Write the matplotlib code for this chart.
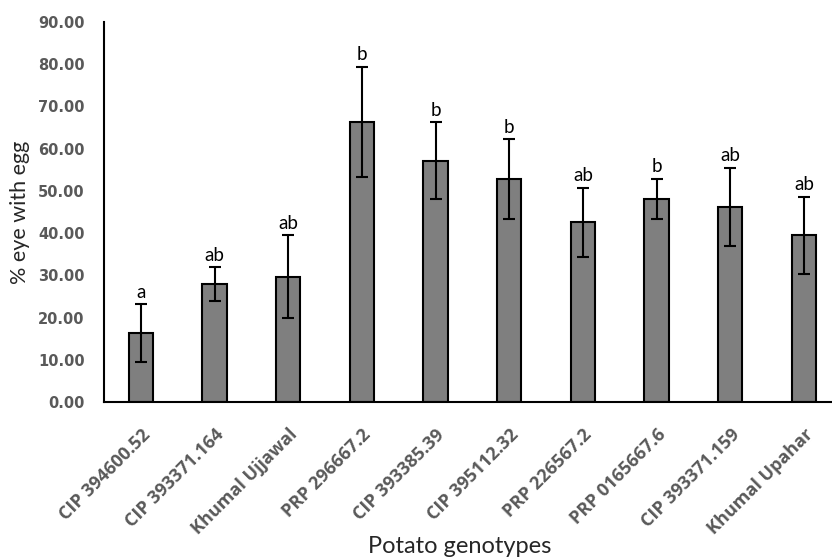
import numpy as np
import matplotlib
matplotlib.use("Agg")
import matplotlib.pyplot as plt

# Mean % of eyes with eggs per genotype, with standard error and letter groups
genotypes = ["CIP 394600.52", "CIP 393371.164", "Khumal Ujjawal", "PRP 296667.2",
             "CIP 393385.39", "CIP 395112.32", "PRP 226567.2", "PRP 0165667.6",
             "CIP 393371.159", "Khumal Upahar"]
eye_with_egg = [16.3, 27.9, 29.7, 66.3, 57.1, 52.8, 42.6, 48.1, 46.2, 39.5]
std_err = [6.8, 4.0, 9.8, 13.1, 9.1, 9.4, 8.2, 4.8, 9.3, 9.1]
groups = ["a", "ab", "ab", "b", "b", "b", "ab", "b", "ab", "ab"]
y_ticks = [0, 10, 20, 30, 40, 50, 60, 70, 80, 90]

plt.rcParams['font.family'] = ['Lato', 'DejaVu Sans']

fig = plt.figure(figsize=(8.32, 5.6), dpi=100)
ax = fig.add_axes([104 / 832, 158 / 560, 728 / 832, 380 / 560])

x = np.arange(len(genotypes))
ax.bar(x, eye_with_egg, width=0.33, color="#7f7f7f", edgecolor="black",
       linewidth=1.5, zorder=2)
ax.errorbar(x, eye_with_egg, yerr=std_err, fmt="none", ecolor="black",
            elinewidth=1.5, capsize=4, capthick=1.5, zorder=3)

for xi, val, err, g in zip(x, eye_with_egg, std_err, groups):
    ax.text(xi, val + err + 0.8, g, ha="center", va="bottom", fontsize=13.5,
            color="black")

ax.set_xlim(-0.5, 9.38)
ax.set_ylim(0, 90)
ax.set_yticks(y_ticks)
ax.set_yticklabels([f"{t:.2f}" for t in y_ticks], fontsize=10.5, fontweight="bold",
                   color="#595959", family="DejaVu Sans")
ax.set_xticks(x)
ax.set_xticklabels(genotypes, rotation=45, ha="right", rotation_mode="anchor",
                   fontsize=13, fontweight="bold", color="#595959",
                   family="Open Sans")
ax.tick_params(axis="both", length=0)
ax.tick_params(axis="y", pad=14)
ax.tick_params(axis="x", pad=17)

for side in ["top", "right"]:
    ax.spines[side].set_visible(False)
ax.spines["left"].set_linewidth(1.5)
ax.spines["bottom"].set_linewidth(1.5)

ax.set_ylabel("% eye with egg", fontsize=15.5, color="#262626", labelpad=6)
ax.set_xlabel("Potato genotypes", fontsize=17, color="#262626", va="center")
ax.xaxis.set_label_coords(0.5 - 0.012, -0.38)

fig.savefig("out.png", dpi=100)
